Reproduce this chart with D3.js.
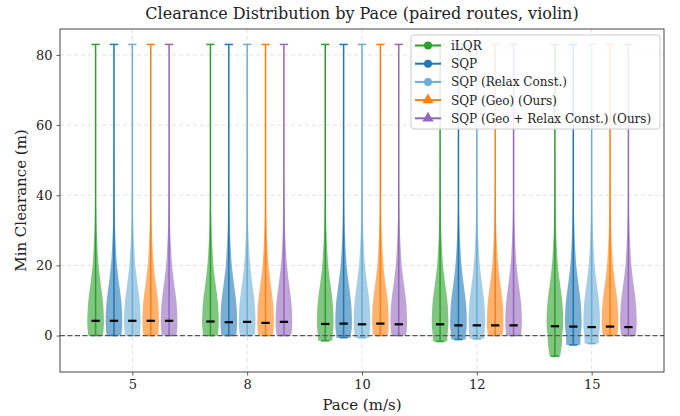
<!DOCTYPE html>
<html>
<head>
<meta charset="utf-8">
<script src="https://cdn.jsdelivr.net/npm/d3@7"></script>
<style>
  body { margin: 0; background: #fff; }
  text { font-family: "DejaVu Serif", serif; fill: #222; }
</style>
</head>
<body>
<svg id="chart" width="680" height="416"></svg>
<script>
var paces = ["5", "8", "10", "12", "15"];
var methods = ["iLQR", "SQP", "SQP (Relax Const.)", "SQP (Geo) (Ours)", "SQP (Geo + Relax Const.) (Ours)"];
var colors = ["#2ca02c", "#1f77b4", "#6baed6", "#ff7f0e", "#9467bd"];
var markers = ["circle", "circle", "circle", "triangle", "triangle"];

// per pace (rows) x method (cols)
var minClear = [
  [0, 0, 0, 0, 0],
  [0, 0, 0, 0, 0],
  [-1.5, -0.6, -0.6, 0, 0],
  [-1.7, -1.15, -0.95, 0, 0],
  [-5.9, -2.7, -2.3, 0, 0]
];
var maxClear = [
  [83, 83, 83, 83, 83],
  [83, 83, 83, 83, 83],
  [83, 83, 83, 83, 83],
  [83, 83, 83, 83, 83],
  [83, 83, 83, 83, 83]
];
var medClear = [
  [4.2, 4.2, 4.2, 4.2, 4.2],
  [4.0, 3.8, 3.9, 3.6, 3.9],
  [3.3, 3.4, 3.2, 3.4, 3.2],
  [3.2, 2.9, 2.9, 2.9, 2.9],
  [2.65, 2.55, 2.4, 2.55, 2.4]
];

// violin outline: relative half width at a clearance value
var profileVal = [-6, -4, -2, 0, 2, 4, 6, 8, 10, 12, 15, 18, 20, 24, 28, 32, 36, 42, 50, 60, 83];
var profileW   = [0.62, 0.75, 0.85, 0.88, 0.97, 1.0, 0.98, 0.94, 0.87, 0.77, 0.6, 0.45, 0.36, 0.25, 0.17, 0.11, 0.07, 0.04, 0.02, 0.01, 0.005];

var yTicks = [0, 20, 40, 60, 80];

var svg = d3.select("#chart");
var m = {l: 60, r: 16, t: 29, b: 44};
var W = 680, H = 416;

var x = d3.scaleLinear().domain([-0.63, 4.63]).range([m.l, W - m.r]);
var y = d3.scaleLinear().domain([-10.4, 87.4]).range([H - m.b, m.t]);
var dens = d3.scaleLinear().domain(profileVal).range(profileW).clamp(true);

var off = 0.16, vw = 0.145;
var halfPx = (x(vw) - x(0)) / 2;

// grid
var grid = svg.append("g");
grid.selectAll(".gy").data(yTicks).enter().append("line")
  .attr("x1", m.l).attr("x2", W - m.r)
  .attr("y1", function(d) { return y(d); }).attr("y2", function(d) { return y(d); })
  .attr("stroke", "#d9d9d9").attr("stroke-width", 0.8).attr("stroke-dasharray", "4,3");
grid.selectAll(".gx").data(paces).enter().append("line")
  .attr("x1", function(d, i) { return x(i); }).attr("x2", function(d, i) { return x(i); })
  .attr("y1", m.t).attr("y2", H - m.b)
  .attr("stroke", "#d9d9d9").attr("stroke-width", 0.8).attr("stroke-dasharray", "4,3");

// violins
var area = d3.area()
  .y(function(d) { return y(d.v); })
  .x0(function(d) { return d.c - d.w * halfPx; })
  .x1(function(d) { return d.c + d.w * halfPx; })
  .curve(d3.curveMonotoneY);

var g = svg.append("g");
paces.forEach(function(p, i) {
  methods.forEach(function(mt, j) {
    var cx = x(i + (j - 2) * off);
    var lo = minClear[i][j], hi = maxClear[i][j];
    var pts = [lo].concat(profileVal.filter(function(v) { return v > lo && v < hi; }), [hi]);
    var data = pts.map(function(v) { return {v: v, w: dens(v), c: cx}; });
    g.append("path").datum(data).attr("d", area)
      .attr("fill", colors[j]).attr("fill-opacity", 0.6).attr("stroke", "none");
    g.append("line").attr("x1", cx).attr("x2", cx).attr("y1", y(lo)).attr("y2", y(hi))
      .attr("stroke", colors[j]).attr("stroke-width", 1.5);
    [lo, hi].forEach(function(v) {
      g.append("line").attr("x1", cx - halfPx / 2).attr("x2", cx + halfPx / 2)
        .attr("y1", y(v)).attr("y2", y(v))
        .attr("stroke", colors[j]).attr("stroke-width", 1.5);
    });
    g.append("line").attr("x1", cx - halfPx / 2).attr("x2", cx + halfPx / 2)
      .attr("y1", y(medClear[i][j])).attr("y2", y(medClear[i][j]))
      .attr("stroke", "#000").attr("stroke-width", 2.2);
  });
});

// zero line
svg.append("line").attr("x1", m.l).attr("x2", W - m.r).attr("y1", y(0)).attr("y2", y(0))
  .attr("stroke", "#555").attr("stroke-width", 1.2).attr("stroke-dasharray", "5,2.5");

// axes
var xAxis = d3.axisBottom(x).tickValues(d3.range(paces.length))
  .tickFormat(function(d) { return paces[d]; }).tickSize(3.5).tickPadding(4);
var yAxis = d3.axisLeft(y).tickValues(yTicks).tickSize(3.5).tickPadding(4);

var gx = svg.append("g").attr("transform", "translate(0," + (H - m.b) + ")").call(xAxis);
var gy = svg.append("g").attr("transform", "translate(" + m.l + ",0)").call(yAxis);
[gx, gy].forEach(function(a) {
  a.select(".domain").remove();
  a.selectAll("line").attr("stroke", "#333").attr("stroke-width", 0.8);
  a.selectAll("text").style("font-family", "DejaVu Serif").style("font-size", "13px").attr("fill", "#222");
});

svg.append("rect").attr("x", m.l).attr("y", m.t).attr("width", W - m.l - m.r).attr("height", H - m.t - m.b)
  .attr("fill", "none").attr("stroke", "#333").attr("stroke-width", 0.9);

// labels
svg.append("text").attr("x", (m.l + W - m.r) / 2).attr("y", 19).attr("text-anchor", "middle")
  .style("font-size", "16px").text("Clearance Distribution by Pace (paired routes, violin)");
svg.append("text").attr("x", (m.l + W - m.r) / 2).attr("y", 410).attr("text-anchor", "middle")
  .style("font-size", "15px").text("Pace (m/s)");
svg.append("text").attr("transform", "translate(26," + ((m.t + H - m.b) / 2) + ") rotate(-90)")
  .attr("text-anchor", "middle").style("font-size", "15px").text("Min Clearance (m)");

// legend
var lg = svg.append("g").attr("transform", "translate(411,35)");
lg.append("rect").attr("width", 249).attr("height", 94).attr("rx", 3)
  .attr("fill", "#fff").attr("fill-opacity", 0.85).attr("stroke", "#ccc").attr("stroke-width", 1);
methods.forEach(function(mt, j) {
  var ry = 10.5 + j * 18.2;
  var row = lg.append("g").attr("transform", "translate(0," + ry + ")");
  row.append("line").attr("x1", 4).attr("x2", 30).attr("y1", 0).attr("y2", 0)
    .attr("stroke", colors[j]).attr("stroke-width", 2);
  row.append("path")
    .attr("d", d3.symbol().type(markers[j] == "circle" ? d3.symbolCircle : d3.symbolTriangle).size(markers[j] == "circle" ? 50 : 55))
    .attr("transform", "translate(17,0)").attr("fill", colors[j]);
  row.append("text").attr("x", 40).attr("y", 4.5).style("font-size", "12px").text(mt);
});
</script>
</body>
</html>
